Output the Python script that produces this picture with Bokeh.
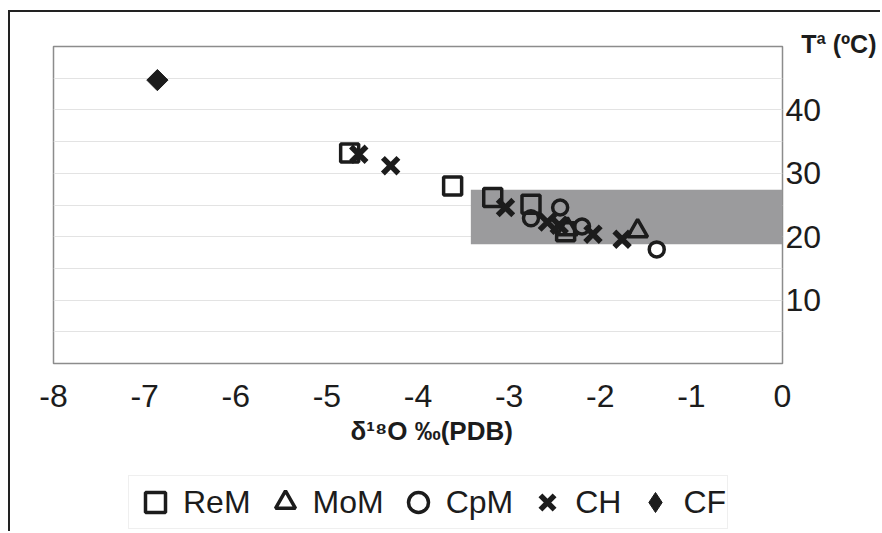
import math
from bokeh.plotting import figure
from bokeh.layouts import column
from bokeh.models import (Range1d, FixedTicker, Legend, LegendItem, Title,
                          CustomJSTickFormatter)
from bokeh.embed import file_html
from bokeh.resources import INLINE

# ---- data ----
x_ticks = [-8, -7, -6, -5, -4, -3, -2, -1, 0]
y_ticks = [10, 20, 30, 40]
grid_ticks = [5, 10, 15, 20, 25, 30, 35, 40, 45]

rem_x = [-4.75, -3.62, -3.18, -2.76, -2.38]
rem_y = [33.2, 28.0, 26.2, 25.1, 20.8]

mom_x = [-2.36, -1.59]
mom_y = [21.2, 20.9]

cpm_x = [-2.76, -2.44, -2.20, -1.38]
cpm_y = [22.9, 24.6, 21.6, 18.0]

ch_x = [-4.65, -4.30, -3.04, -2.58, -2.45, -2.08, -1.76]
ch_y = [33.0, 31.2, 24.6, 22.3, 21.8, 20.4, 19.6]

cf_x = [-6.86]
cf_y = [44.7]

band_x = [-3.42, 0.0]
band_y = [18.8, 27.4]

labels = ["ReM", "MoM", "CpM", "CH", "CF"]

ink = "#1c1c1c"
font = "Liberation Sans"

# marker styles shared by plot and legend
styles = [
    dict(marker="square", size=18, line_width=3.5, line_color=ink, fill_color=None),
    dict(marker="triangle", size=20, line_width=3.5, line_color=ink, fill_color=None),
    dict(marker="circle", size=15, line_width=3.5, line_color=ink, fill_color=None),
    dict(marker="x", size=22, line_width=5.5, line_color=ink),
    dict(marker="square", angle=math.pi / 4, size=15, line_color=ink, fill_color=ink),
]
# legend swatches (legend glyphs ignore the angle, so CF uses a diamond there)
legend_styles = styles[:4] + [dict(marker="diamond", size=15, line_color=ink, fill_color=ink)]
series = [(rem_x, rem_y), (mom_x, mom_y), (cpm_x, cpm_y), (ch_x, ch_y), (cf_x, cf_y)]

p = figure(width=870, height=462,
           x_range=Range1d(-8, 0), y_range=Range1d(0, 50),
           y_axis_location="right",
           output_backend="svg", toolbar_location=None,
           min_border_left=43, min_border_right=98,
           min_border_top=34, min_border_bottom=111)

p.background_fill_color = "white"
p.border_fill_color = "white"
p.outline_line_color = "#8c8c8c"
p.outline_line_width = 1.5

# grid
p.xgrid.visible = False
p.ygrid.ticker = FixedTicker(ticks=grid_ticks)
p.ygrid.grid_line_color = "#e3e3e3"
p.ygrid.grid_line_width = 1

# axes
for ax in (p.xaxis[0], p.yaxis[0]):
    ax.axis_line_color = None
    ax.major_tick_line_color = None
    ax.minor_tick_line_color = None
    ax.major_tick_out = 0
    ax.major_tick_in = 0
    ax.major_label_text_font = font
    ax.major_label_text_font_size = "32px"
    ax.major_label_text_color = ink

p.xaxis[0].ticker = FixedTicker(ticks=x_ticks)
p.xaxis[0].formatter = CustomJSTickFormatter(code="return tick.toFixed(0)")
p.xaxis[0].major_label_standoff = 21
p.yaxis[0].ticker = FixedTicker(ticks=y_ticks)
p.yaxis[0].major_label_standoff = 3

# title on top right
p.title.text = "Tª (ºC)"
p.title.align = "right"
p.title.offset = -94
p.title.text_font = font
p.title.text_font_size = "25px"
p.title.text_font_style = "bold"
p.title.text_color = ink
p.title.vertical_align = "bottom"
p.title.standoff = -22

# band
p.quad(left=band_x[0], right=band_x[1], bottom=band_y[0], top=band_y[1],
       fill_color="#9b9b9d", line_color=None)

for (xs, ys), st in zip(series, styles):
    p.scatter(xs, ys, **st)

# x axis title
xt = Title(text="δ¹⁸O ‰(PDB)", align="left", offset=297,
           text_font=font, text_font_size="26px", text_font_style="bold",
           text_color=ink, vertical_align="top", standoff=12)
p.add_layout(xt, "below")

# legend strip below the chart (same series, outside its visible range)
lg = figure(width=870, height=57, x_range=Range1d(10, 11), y_range=Range1d(100, 101),
            x_axis_location=None, y_axis_location=None,
            output_backend="svg", toolbar_location=None,
            min_border_left=0, min_border_right=0,
            min_border_top=0, min_border_bottom=0)
lg.outline_line_color = None
lg.grid.visible = False
lg.background_fill_color = "white"
lg.border_fill_color = "white"

items = []
for lab, (xs, ys), st in zip(labels, series, legend_styles):
    r = lg.scatter(xs, ys, **st)
    items.append(LegendItem(label=lab, renderers=[r]))

legend = Legend(items=items, orientation="horizontal", location=(75, 2),
                margin=0, glyph_width=50, glyph_height=50, label_standoff=3,
                spacing=9, padding=1,
                label_text_font=font, label_text_font_size="32px",
                label_text_color=ink,
                border_line_color="#e0e0e0", border_line_width=1,
                background_fill_color="white", background_fill_alpha=1)
lg.add_layout(legend)

layout = column(p, lg, spacing=0)
layout.styles = {"border-left": "2px solid #222", "border-top": "2px solid #222",
                 "margin-left": "8px", "margin-top": "10px"}

open("out.html", "w").write(file_html(layout, INLINE))
